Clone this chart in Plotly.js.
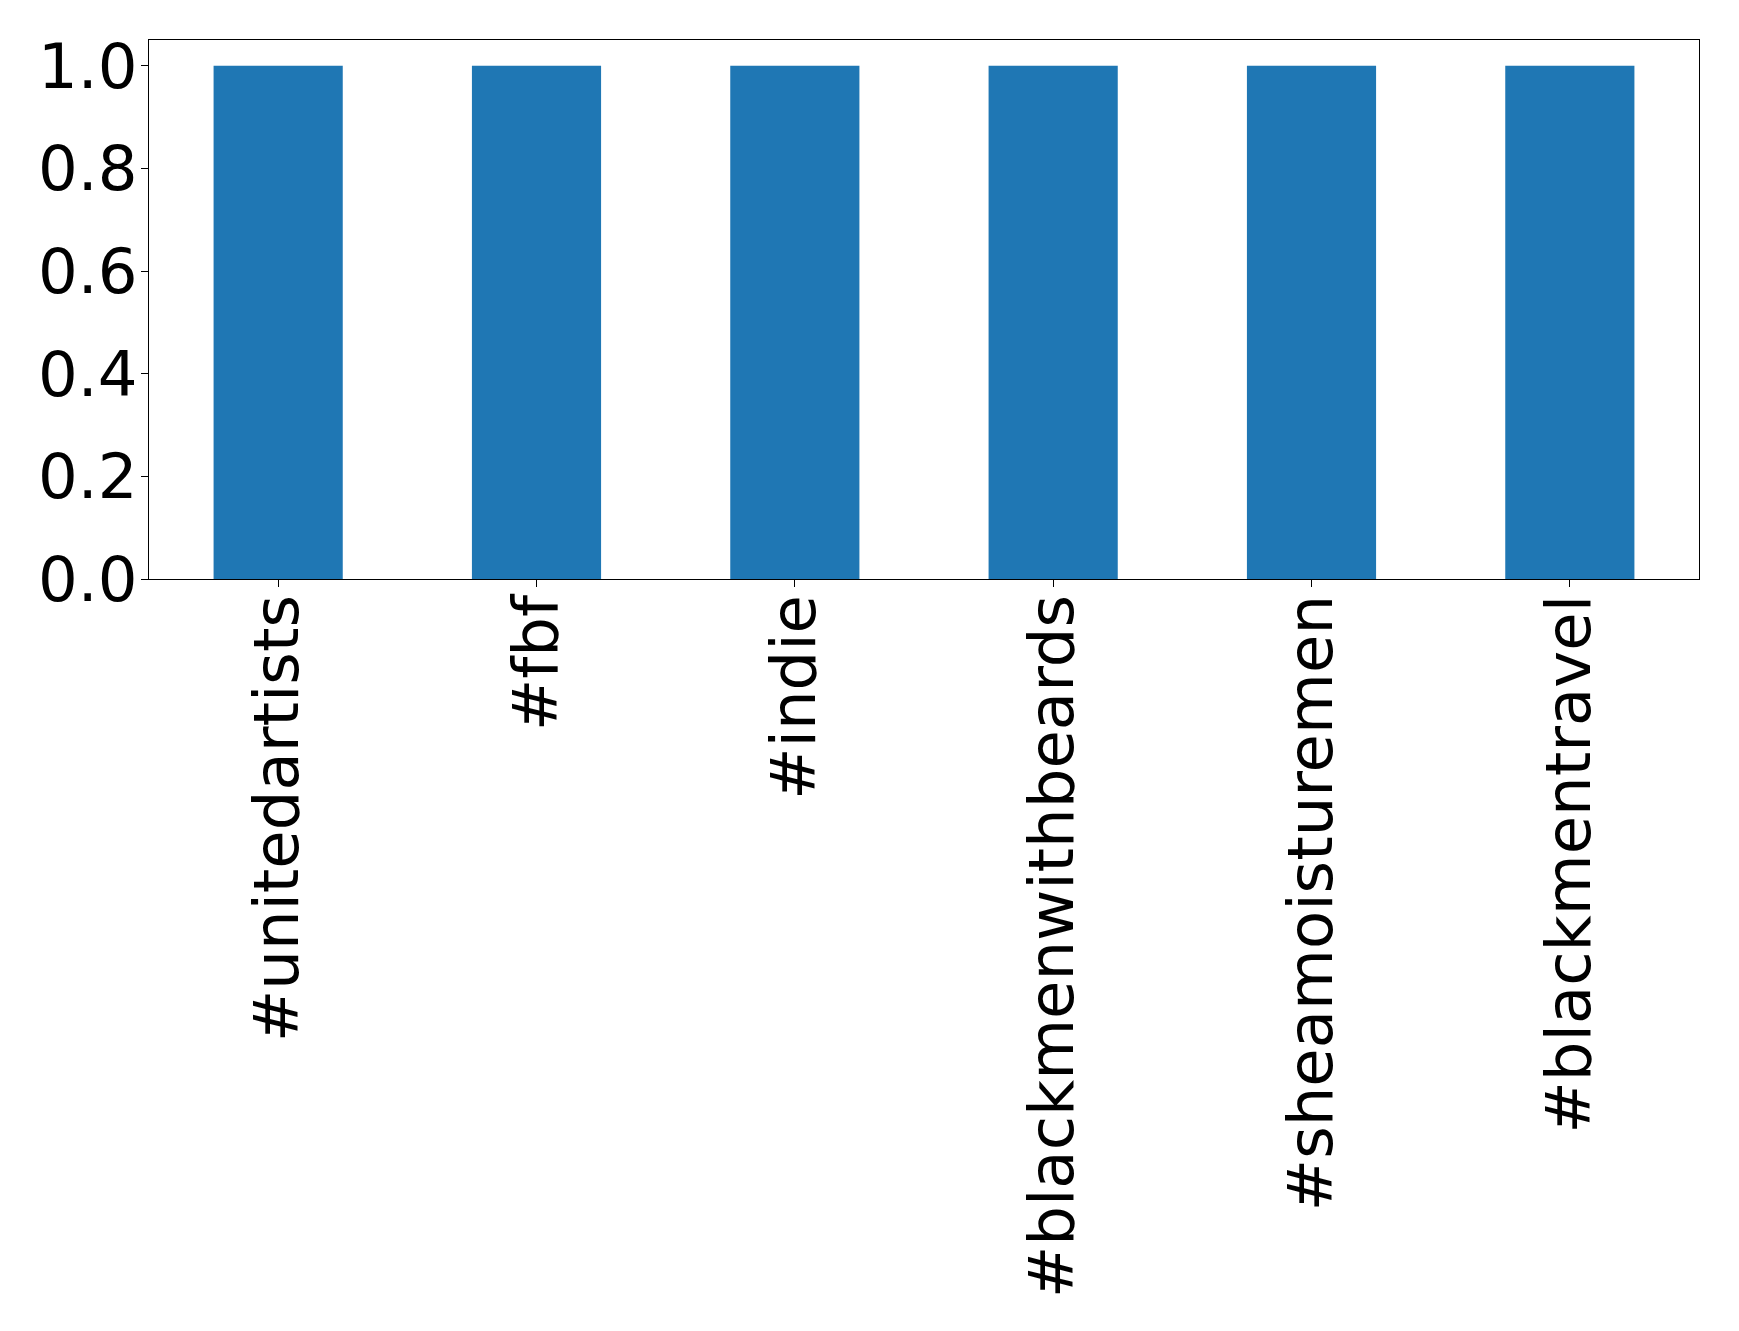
<!DOCTYPE html>
<html>
<head>
<meta charset="utf-8">
<script src="https://cdn.plot.ly/plotly-3.0.1.min.js"></script>
<style>html,body{margin:0;padding:0;background:#fff;}</style>
</head>
<body>
<div id="chart" style="width:1739px;height:1331px;"></div>
<script>
const categories = ["#unitedartists", "#fbf", "#indie", "#blackmenwithbeards", "#sheamoisturemen", "#blackmentravel"];
const values = [1, 1, 1, 1, 1, 1];
const yTicks = [0, 0.2, 0.4, 0.6, 0.8, 1.0];

const trace = {
  type: "bar",
  x: categories,
  y: values,
  width: 0.5,
  marker: {color: "#1f77b4", line: {width: 0}},
  hoverinfo: "x+y"
};

const layout = {
  width: 1739,
  height: 1331,
  margin: {l: 149, r: 40, t: 40, b: 752, pad: 0},
  paper_bgcolor: "#ffffff",
  plot_bgcolor: "#ffffff",
  font: {family: "DejaVu Sans", size: 62, color: "#000000"},
  showlegend: false,
  bargap: 0.5,
  xaxis: {
    type: "category",
    range: [-0.5, 5.5],
    tickangle: -90,
    ticks: "outside",
    ticklen: 7,
    tickwidth: 1,
    tickcolor: "#000",
    ticklabelstandoff: -17,
    showline: true,
    mirror: true,
    linecolor: "#000",
    linewidth: 1,
    showgrid: false,
    zeroline: false,
    tickfont: {family: "DejaVu Sans", size: 62.5, color: "#000"}
  },
  yaxis: {
    range: [0, 1.05],
    tickvals: yTicks,
    tickformat: ".1f",
    ticks: "outside",
    ticklen: 7,
    tickwidth: 1,
    tickcolor: "#000",
    ticklabelstandoff: -9,
    showline: true,
    mirror: true,
    linecolor: "#000",
    linewidth: 1,
    showgrid: false,
    zeroline: false,
    tickfont: {family: "DejaVu Sans", size: 62.5, color: "#000"}
  }
};

Plotly.newPlot("chart", [trace], layout, {displayModeBar: false, staticPlot: true});
</script>
</body>
</html>
